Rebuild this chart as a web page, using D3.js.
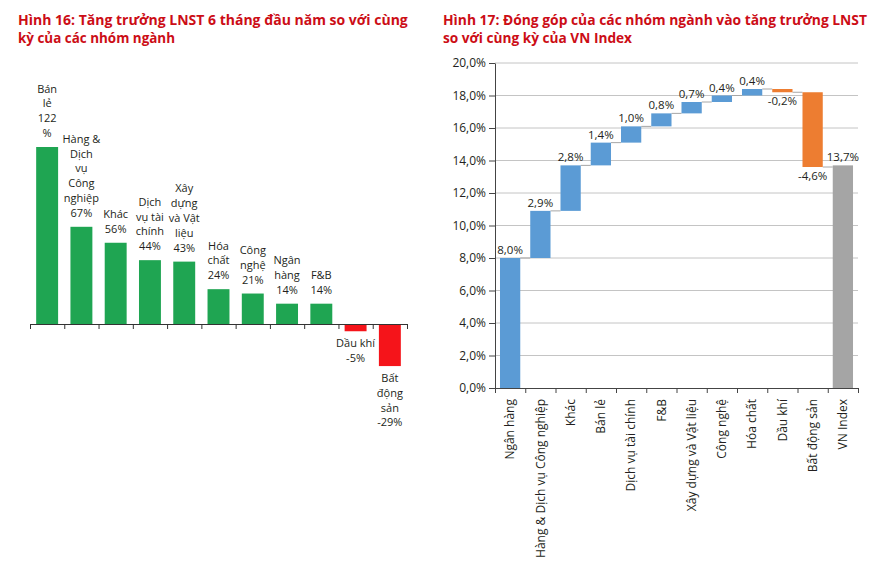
<!DOCTYPE html>
<html><head><meta charset="utf-8">
<script src="https://cdn.jsdelivr.net/npm/d3@7"></script>
<style>
html,body{margin:0;padding:0;background:#fff;}
svg{display:block;font-family:"Open Sans","Noto Sans",sans-serif;}
</style></head>
<body>
<svg id="chart" width="883" height="576"></svg>
<script>
// ---------- DATA ----------
const leftTitle = ["Hình 16: Tăng trưởng LNST 6 tháng đầu năm so với cùng", "kỳ của các nhóm ngành"];
const leftCategories = ["Bán lẻ","Hàng & Dịch vụ Công nghiệp","Khác","Dịch vụ tài chính","Xây dựng và Vật liệu","Hóa chất","Công nghệ","Ngân hàng","F&B","Dầu khí","Bất động sản"];
const leftValues = [122, 67, 56, 44, 43, 24, 21, 14, 14, -5, -29];
const leftNameLines = [["Bán","lẻ"],["Hàng &","Dịch","vụ","Công","nghiệp"],["Khác"],["Dịch","vụ tài","chính"],["Xây","dựng","và Vật","liệu"],["Hóa","chất"],["Công","nghệ"],["Ngân","hàng"],["F&B"],["Dầu khí"],["Bất","động","sản"]];
const leftValueLines = [["122","%"],["67%"],["56%"],["44%"],["43%"],["24%"],["21%"],["14%"],["14%"],["-5%"],["-29%"]];

const rightTitle = ["Hình 17: Đóng góp của các nhóm ngành vào tăng trưởng LNST", "so với cùng kỳ của VN Index"];
const rightCategories = ["Ngân hàng","Hàng & Dịch vụ Công nghiệp","Khác","Bán lẻ","Dịch vụ tài chính","F&B","Xây dựng và Vật liệu","Công nghệ","Hóa chất","Dầu khí","Bất động sản","VN Index"];
const rightValues = [8.0, 2.9, 2.8, 1.4, 1.0, 0.8, 0.7, 0.4, 0.4, -0.2, -4.6];
const rightTotal = 13.7;
const rightTicks = [0, 2, 4, 6, 8, 10, 12, 14, 16, 18, 20];

// ---------- SETUP ----------
const svg = d3.select("#chart");
const titleColor = "#cc0d16";
const textColor = "#231f20";

function drawTitle(lines, x, targetWidths){
  lines.forEach((t,i)=>{
    const el = svg.append("text")
      .attr("x", x).attr("y", 25 + i*17.5)
      .attr("fill", titleColor).attr("font-weight", "bold")
      .attr("font-size", 14).text(t);
    const w = el.node().getComputedTextLength();
    if (w > targetWidths[i]) el.attr("textLength", targetWidths[i]).attr("lengthAdjust", "spacingAndGlyphs");
  });
}
drawTitle(leftTitle, 18, [390, 157]);
drawTitle(rightTitle, 443, [424, 189]);

// ---------- LEFT CHART ----------
const xL = d3.scaleBand().domain(leftCategories).range([30, 407]).paddingInner(0.36).paddingOuter(0.18);
const yL = d3.scaleLinear().domain([0, 122]).range([324, 147]);
const gL = svg.append("g");

gL.selectAll("rect.bar").data(leftValues).join("rect")
  .attr("x", (d,i)=>xL(leftCategories[i]))
  .attr("width", xL.bandwidth())
  .attr("y", d=>Math.min(yL(d), yL(0)))
  .attr("height", d=>Math.abs(yL(d)-yL(0)))
  .attr("fill", d=> d>=0 ? "#1fa552" : "#f5141a");

const axL = d3.axisBottom(d3.scaleLinear().domain([0, leftCategories.length]).range([30, 407]))
  .ticks(leftCategories.length).tickFormat("").tickSize(5).tickSizeOuter(5);
gL.append("g").attr("transform", `translate(0,${yL(0)})`).call(axL)
  .call(g=>g.selectAll("path,line").attr("stroke","#333"));

const lh = 14.8;
leftValues.forEach((v,i)=>{
  const lines = leftNameLines[i].concat(leftValueLines[i]);
  const cx = xL(leftCategories[i]) + xL.bandwidth()/2;
  const t = gL.append("text").attr("text-anchor","middle").attr("font-size",11).attr("fill",textColor);
  if (v >= 0){
    const base = yL(v) - 10;
    lines.forEach((s,k)=>{
      t.append("tspan").attr("x",cx).attr("y", base - (lines.length-1-k)*lh).text(s);
    });
  } else {
    const base = yL(v) + 16;
    lines.forEach((s,k)=>{
      t.append("tspan").attr("x",cx).attr("y", base + k*lh).text(s);
    });
  }
});

// ---------- RIGHT CHART ----------
const xR = d3.scaleBand().domain(rightCategories).range([495, 858]).paddingInner(0.33).paddingOuter(0.165);
const yR = d3.scaleLinear().domain([0, 20]).range([388, 63]);
const gR = svg.append("g");
const fmt = v => d3.format(".1f")(v).replace(".", ",").replace("\u2212", "-") + "%";

// gridlines
gR.selectAll("line.grid").data(rightTicks.filter(d=>d>0)).join("line")
  .attr("x1", 495).attr("x2", 858)
  .attr("y1", d=>yR(d)).attr("y2", d=>yR(d))
  .attr("stroke", "#c4c4c4").attr("stroke-width", 1);

// waterfall segments
let cum = 0;
const segs = rightValues.map((v,i)=>{
  const s = {cat: rightCategories[i], v, start: cum, end: cum + v};
  cum += v; return s;
});
const totalSeg = {cat: rightCategories[rightCategories.length-1], v: rightTotal, start: 0, end: rightTotal, total: true};
const allSegs = segs.concat([totalSeg]);

// connectors
allSegs.slice(0,-1).forEach((s,i)=>{
  const nx = allSegs[i+1];
  gR.append("line")
    .attr("x1", xR(s.cat) + xR.bandwidth()).attr("x2", xR(nx.cat))
    .attr("y1", yR(s.end)).attr("y2", yR(s.end))
    .attr("stroke", "#a6a6a6").attr("stroke-width", 1);
});

gR.selectAll("rect.wf").data(allSegs).join("rect")
  .attr("x", d=>xR(d.cat)).attr("width", xR.bandwidth())
  .attr("y", d=>yR(Math.max(d.start, d.end)))
  .attr("height", d=>Math.abs(yR(d.start)-yR(d.end)))
  .attr("fill", d=> d.total ? "#a5a5a5" : (d.v >= 0 ? "#5b9bd5" : "#ed7d31"));

// value labels
gR.selectAll("text.val").data(allSegs).join("text")
  .attr("text-anchor","middle").attr("font-size",11.5).attr("fill",textColor)
  .attr("x", d=>xR(d.cat) + xR.bandwidth()/2)
  .attr("y", d=> d.v >= 0 ? yR(d.end) - 4 : yR(d.end) + 13)
  .text(d=>fmt(d.v));

// y axis
const axY = d3.axisLeft(yR).tickValues(rightTicks).tickFormat(fmt).tickSize(6).tickPadding(3).tickSizeOuter(0);
gR.append("g").attr("transform","translate(495,0)").call(axY)
  .call(g=>g.selectAll("path,line").attr("stroke","#444"))
  .call(g=>g.selectAll("text").attr("font-size",12).attr("fill",textColor).attr("font-family","'Open Sans','Noto Sans',sans-serif"));

// x axis boundaries ticks
const axXb = d3.axisBottom(d3.scaleLinear().domain([0, rightCategories.length]).range([495, 858]))
  .ticks(rightCategories.length).tickFormat("").tickSize(5).tickSizeOuter(5);
gR.append("g").attr("transform","translate(0,388)").call(axXb)
  .call(g=>g.selectAll("path,line").attr("stroke","#444"));

// x axis category labels
const axXl = d3.axisBottom(xR).tickSize(0).tickPadding(0);
gR.append("g").attr("transform","translate(0,388)").call(axXl)
  .call(g=>g.select("path.domain").remove())
  .call(g=>g.selectAll("text")
    .attr("font-size",12).attr("fill",textColor)
    .attr("font-family","'Open Sans','Noto Sans',sans-serif")
    .attr("text-anchor","end")
    .attr("transform","rotate(-90)")
    .attr("x",-11).attr("y",0).attr("dy","0.35em"));
</script>
</body></html>
